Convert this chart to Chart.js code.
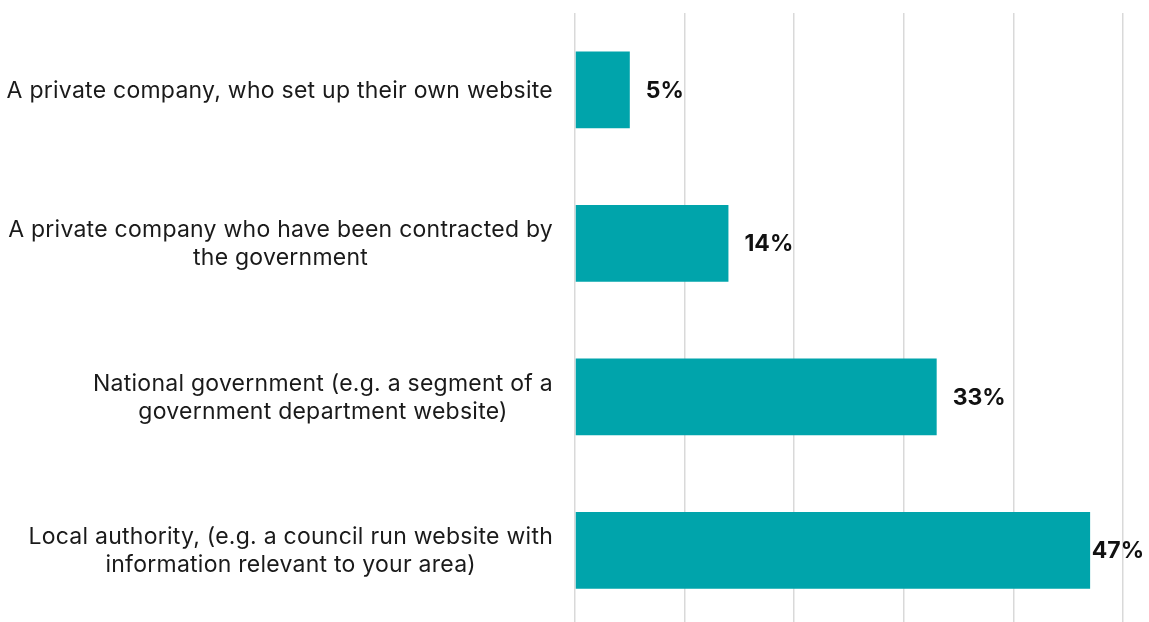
<!DOCTYPE html>
<html>
<head>
<meta charset="utf-8">
<script src="https://cdn.jsdelivr.net/npm/chart.js@4.4.0/dist/chart.umd.min.js"></script>
<style>
  html, body { margin: 0; padding: 0; background: #fff; overflow: hidden; }
  #wrap { width: 1149px; height: 640px; }
</style>
</head>
<body>
<div id="wrap"><canvas id="myChart"></canvas></div>
<script>
const categories = [
  ["A private company, who set up their own website"],
  ["A private company who have been contracted by", "the government"],
  ["National government (e.g. a segment of a", "government department website)"],
  ["Local authority, (e.g. a council run website with", "information relevant to your area)"],
];
const values = [5, 14, 33, 47];
const xTicks = [0, 10, 20, 30, 40, 50];

const labelFont = "23px Inter, Roboto, sans-serif";
const valueFont = "bold 23px Inter, Roboto, sans-serif";

// category labels: each block right-aligned, lines centred within the block
const categoryLabels = {
  id: "categoryLabels",
  afterDraw(chart) {
    const ctx = chart.ctx;
    const yScale = chart.scales.y;
    const right = chart.chartArea.left - 22;
    const lineHeight = 28;
    ctx.save();
    ctx.font = labelFont;
    ctx.letterSpacing = "0.25px";
    ctx.fillStyle = "#1a1a1a";
    ctx.textAlign = "center";
    ctx.textBaseline = "middle";
    categories.forEach((lines, i) => {
      const widest = Math.max(...lines.map((l) => ctx.measureText(l).width));
      const cx = right - widest / 2;
      const cy = yScale.getPixelForValue(i) + 1;
      const top = cy - ((lines.length - 1) * lineHeight) / 2;
      lines.forEach((l, j) => ctx.fillText(l, cx, top + j * lineHeight));
    });
    ctx.restore();
  },
};

// percentage at the end of each bar, pulled back in if it would run off the edge
const valueLabels = {
  id: "valueLabels",
  afterDatasetsDraw(chart) {
    const ctx = chart.ctx;
    const meta = chart.getDatasetMeta(0);
    ctx.save();
    ctx.font = valueFont;
    ctx.fillStyle = "#111";
    ctx.textAlign = "left";
    ctx.textBaseline = "middle";
    meta.data.forEach((bar, i) => {
      const txt = values[i] + "%";
      const w = ctx.measureText(txt).width;
      const x = Math.min(bar.x + 16, chart.width - w - 5);
      ctx.fillText(txt, x, bar.y + 1);
    });
    ctx.restore();
  },
};

const ctx = document.getElementById("myChart").getContext("2d");
const myChart = new Chart(ctx, {
  type: "bar",
  data: {
    labels: categories,
    datasets: [
      {
        data: values,
        backgroundColor: "#00a4ab",
        borderWidth: 0,
        categoryPercentage: 1,
        barPercentage: 0.5,
      },
    ],
  },
  options: {
    indexAxis: "y",
    responsive: true,
    maintainAspectRatio: false,
    animation: false,
    layout: { padding: { top: 13, right: 26, bottom: 13, left: 0 } },
    plugins: {
      legend: { display: false },
      tooltip: { enabled: false },
    },
    scales: {
      x: {
        min: xTicks[0],
        max: xTicks[xTicks.length - 1],
        afterBuildTicks: (scale) => {
          scale.ticks = xTicks.map((v) => ({ value: v }));
        },
        ticks: { display: false },
        grid: { color: "#d9d9d9", lineWidth: 1.5, drawTicks: false },
        border: { display: false },
      },
      y: {
        ticks: { display: false },
        grid: { display: false, drawTicks: false },
        border: { display: false },
        afterFit: (scale) => {
          scale.width = 575;
        },
      },
    },
  },
  plugins: [categoryLabels, valueLabels],
});
</script>
</body>
</html>
